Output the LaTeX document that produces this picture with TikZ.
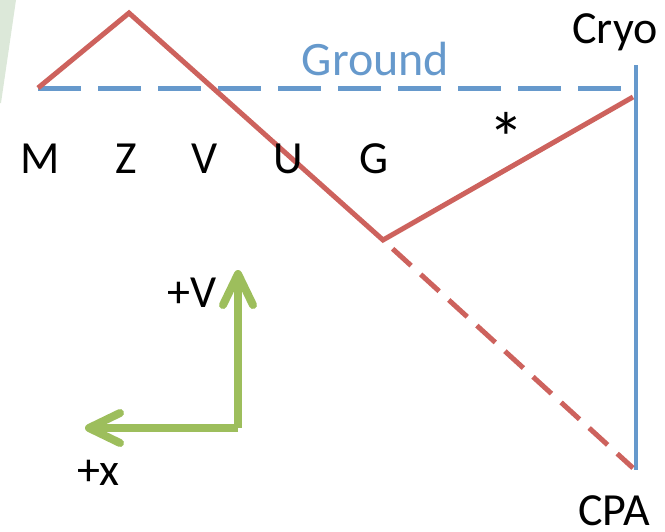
\documentclass[tikz,border=0pt]{standalone}
\usepackage{fontspec}
\setmainfont{Carlito}
\usepackage{xcolor}
\usetikzlibrary{arrows.meta}
\definecolor{lnRed}{HTML}{CD625D}
\definecolor{lnBlue}{HTML}{6699CC}
\definecolor{axGreen}{HTML}{9DBE5C}
\definecolor{edgeTint}{HTML}{DCE8D9}
\definecolor{ink}{HTML}{000000}
\newcommand{\lbfont}{\fontsize{46}{54}\selectfont}

\begin{document}
\begin{tikzpicture}[x=1pt,y=1pt,
    path/.style={draw=lnRed,line width=5pt,line join=miter},
    gnd/.style={draw=lnBlue,line width=5pt},
    axis/.style={draw=axGreen,line width=8pt,
                 -{Straight Barb[length=31pt,width=30pt,round]}},
    lab/.style={text=ink,inner sep=0pt,anchor=base,font=\lbfont}]

\useasboundingbox (0,0) rectangle (665,-531);

% ======================= faint sliver at the left edge ================================
\fill[edgeTint] (0,0) -- (16,0) -- (1,-103) -- (0,-103) -- cycle;

% ======================= points ======================================================
\coordinate (mpt)  at (38,-88);
\coordinate (zpk)  at (129,-13);
\coordinate (gpt)  at (383,-240);
\coordinate (cryo) at (633,-97);
\coordinate (cpa)  at (633,-468);
\coordinate (gndR) at (636,-88);
\coordinate (vtop) at (636,-65);
\coordinate (vbot) at (636,-470);

% ======================= ground and cryo lines =======================================
\draw[gnd,dash pattern=on 43pt off 17pt] (mpt) -- (gndR);
\draw[draw=lnBlue,line width=4.5pt] (vtop) -- (vbot);

% ======================= red path =====================================================
\draw[path] (mpt) -- (zpk) -- (gpt) -- (cryo);
\draw[path,dash pattern=on 25pt off 13pt,dash phase=25pt] (gpt) -- (cpa);

% ======================= labels =======================================================
\node[lab,text=lnBlue,font=\fontsize{48}{56}\selectfont] (tgnd) at (375.5,-75) {Ground};
\node[lab] (tcryo) at (615,-43) {Cryo};
\node[lab] (tm) at (40,-173)  {M};
\node[lab] (tz) at (126,-173) {Z};
\node[lab] (tv) at (205,-173) {V};
\node[lab] (tu) at (288,-173) {U};
\node[lab] (tg) at (374,-173) {G};
\node[lab,anchor=center,font=\fontsize{72}{80}\selectfont] (tstar) at (506,-138) {*};
\node[lab] (tcpa) at (614,-525) {CPA};

% ======================= direction axes ===============================================
\coordinate (corner) at (238,-428);
\coordinate (uptip)  at (238,-270);
\coordinate (lftip)  at (85,-428);
\draw[axis] (corner) -- (uptip);
\draw[axis] (corner) -- (lftip);
\node[lab] (tvp) at (192,-307) {+V};
\node[lab] (txp) at (98.5,-485)  {+x};

\end{tikzpicture}
\end{document}
